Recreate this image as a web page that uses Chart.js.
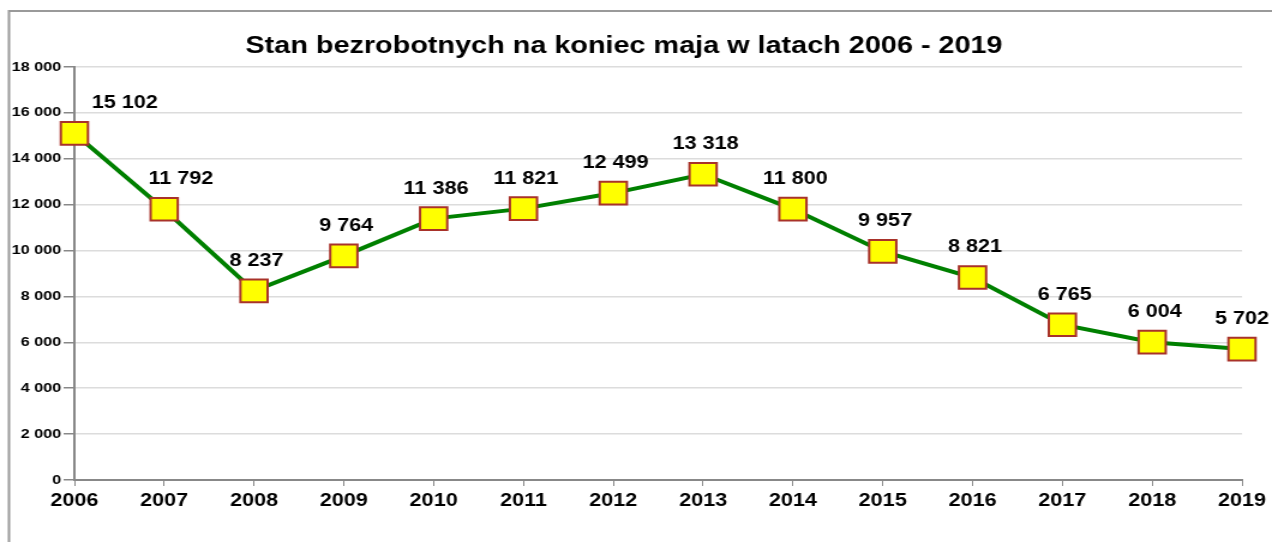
<!DOCTYPE html>
<html>
<head>
<meta charset="utf-8">
<script src="https://cdn.jsdelivr.net/npm/chart.js@4"></script>
<style>
  html, body { margin: 0; padding: 0; background: #fff; overflow: hidden; }
  #wrap { width: 1272px; height: 542px; position: relative; overflow: hidden; }
  /* oryginal jest rozciagniety w poziomie ok. 1.2x */
  #chart { transform: scaleX(1.2); transform-origin: 0 0; }
</style>
</head>
<body>
<div id="wrap"><canvas id="chart" width="1060" height="542" style="width:1060px;height:542px"></canvas></div>
<script>
// dane
var lata = ["2006","2007","2008","2009","2010","2011","2012","2013","2014","2015","2016","2017","2018","2019"];
var bezrobotni = [15102, 11792, 8237, 9764, 11386, 11821, 12499, 13318, 11800, 9957, 8821, 6765, 6004, 5702];
var osY = [0, 2000, 4000, 6000, 8000, 10000, 12000, 14000, 16000, 18000];

var FONT = "'Liberation Sans', Arial, sans-serif";

function fmt(v) {
  return String(v).replace(/\B(?=(\d{3})+(?!\d))/g, ' ');
}

// ramka wykresu (lewa i gorna krawedz)
var ramka = {
  id: 'ramka',
  beforeDraw: function(chart) {
    var ctx = chart.ctx;
    ctx.save();
    ctx.strokeStyle = '#9a9a9a';
    ctx.lineWidth = 2;
    ctx.beginPath();
    ctx.moveTo(7.5, 542);
    ctx.lineTo(7.5, 11);
    ctx.lineTo(1060, 11);
    ctx.stroke();
    ctx.restore();
  }
};

// etykiety wartosci nad punktami
var etykiety = {
  id: 'etykiety',
  afterDatasetsDraw: function(chart) {
    var ctx = chart.ctx;
    var meta = chart.getDatasetMeta(0);
    ctx.save();
    ctx.font = 'bold 18px ' + FONT;
    ctx.fillStyle = '#000';
    ctx.textAlign = 'center';
    ctx.textBaseline = 'middle';
    meta.data.forEach(function(pt, i) {
      var dx = 2;
      if (i === 0) dx = 42;
      if (i === 1) dx = 14;
      if (i === 13) dx = 0;
      ctx.fillText(fmt(bezrobotni[i]), pt.x + dx, pt.y - 30);
    });
    ctx.restore();
  }
};

var ctx = document.getElementById('chart').getContext('2d');
var chart = new Chart(ctx, {
  type: 'line',
  data: {
    labels: lata,
    datasets: [{
      data: bezrobotni,
      borderColor: '#008000',
      borderWidth: 4,
      tension: 0,
      pointStyle: 'rect',
      pointRadius: 16,
      pointHoverRadius: 16,
      pointBackgroundColor: '#ffff00',
      pointBorderColor: '#a8322a',
      pointBorderWidth: 2
    }]
  },
  options: {
    responsive: false,
    animation: false,
    devicePixelRatio: 1,
    layout: { padding: { left: 5, right: 25, top: 0, bottom: 0 } },
    plugins: {
      legend: { display: false },
      tooltip: { enabled: false },
      title: {
        display: true,
        text: 'Stan bezrobotnych na koniec maja w latach 2006 - 2019',
        color: '#000',
        font: { family: FONT, size: 24, weight: 'bold' },
        padding: { top: 32, bottom: 6 }
      }
    },
    scales: {
      x: {
        offset: false,
        grid: { display: true, drawOnChartArea: false, drawTicks: true, tickLength: 6, tickColor: '#888' },
        border: { color: '#888', width: 2 },
        ticks: {
          color: '#000',
          padding: 4,
          maxRotation: 0,
          autoSkip: false,
          font: { family: FONT, size: 18, weight: 'bold' }
        },
        afterFit: function(s) { s.height = 62; }
      },
      y: {
        min: 0,
        max: 18000,
        afterBuildTicks: function(s) { s.ticks = osY.map(function(v) { return { value: v }; }); },
        grid: { color: '#dcdcdc', lineWidth: 1.5, tickColor: '#888', tickLength: 9 },
        border: { color: '#888', width: 2 },
        ticks: {
          color: '#000',
          padding: 2,
          font: { family: FONT, size: 13.5, weight: 'bold' },
          callback: function(v) { return fmt(v); }
        },
        afterFit: function(s) { s.width = 57; }
      }
    }
  },
  plugins: [ramka, etykiety]
});
</script>
</body>
</html>
